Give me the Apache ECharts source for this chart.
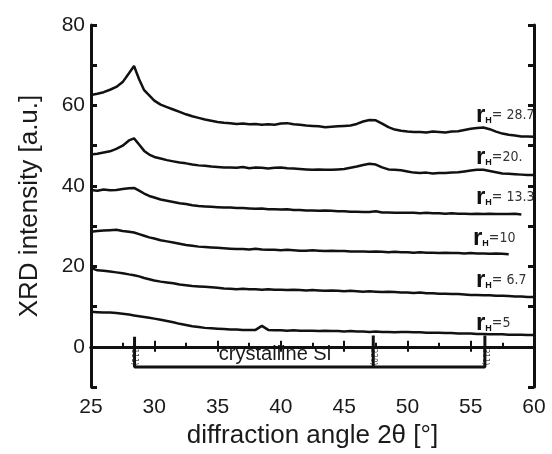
<!DOCTYPE html>
<html>
<head>
<meta charset="utf-8">
<script src="https://cdn.jsdelivr.net/npm/echarts@6/dist/echarts.min.js"></script>
<style>
  html, body { margin: 0; padding: 0; background: #fff; }
  #chart { width: 552px; height: 454px; }
</style>
</head>
<body>
<div id="chart"></div>
<script>
// 2theta grid shared by every pattern (denser around the 28.4 peak)
var angles = [
  25, 25.5, 26, 26.5, 27, 27.5, 28, 28.4, 28.8, 29.2, 29.6,
  30, 30.5, 31, 31.5, 32, 32.5, 33, 33.5, 34, 34.5,
  35, 35.5, 36, 36.5, 37, 37.5, 38, 38.5, 39, 39.5,
  40, 40.5, 41, 41.5, 42, 42.5, 43, 43.5, 44, 44.5,
  45, 45.5, 46, 46.5, 47, 47.5, 48, 48.5, 49, 49.5,
  50, 50.5, 51, 51.5, 52, 52.5, 53, 53.5, 54, 54.5,
  55, 55.5, 56, 56.5, 57, 57.5, 58, 58.5, 59, 59.5, 60
]

var rH287 = [
  62.6, 62.9, 63.3, 63.9, 64.6, 65.8, 68.0, 69.8, 66.5, 63.8, 62.5,
  61.2, 60.2, 59.6, 59.0, 58.4, 57.8, 57.3, 56.9, 56.5, 56.2,
  55.9, 55.7, 55.6, 55.4, 55.5, 55.3, 55.4, 55.2, 55.3, 55.2,
  55.5, 55.6, 55.3, 55.2, 55.0, 54.9, 54.8, 54.6, 54.7, 54.8,
  54.9, 55.0, 55.4, 56.0, 56.4, 56.3, 55.5, 54.6, 54.0, 53.7,
  53.5, 53.4, 53.4, 53.3, 53.5, 53.4, 53.3, 53.5, 53.6, 53.9,
  54.2, 54.4, 54.5, 54.1, 53.5, 53.0, 52.7, 52.5, 52.3, 52.3, 52.2
]
var rH20 = [
  47.8, 48.0, 48.3, 48.6, 49.2, 50.0, 51.3, 51.8, 50.3, 48.7, 47.8,
  47.2, 46.8, 46.4, 46.1, 45.8, 45.6, 45.3, 45.1, 45.0, 44.8,
  44.7, 44.6, 44.6, 44.5, 44.7, 44.4, 44.6, 44.5, 44.3, 44.5,
  44.6, 44.4, 44.3, 44.2, 44.1, 44.0, 44.1, 44.0, 44.0, 44.1,
  44.2, 44.5, 44.8, 45.2, 45.5, 45.3, 44.6, 44.1, 44.0, 43.9,
  43.6, 43.3, 43.2, 43.3, 43.1, 43.2, 43.2, 43.3, 43.4, 43.6,
  43.8, 44.0, 44.0, 43.7, 43.4, 43.1, 43.0, 42.9, 42.8, 42.7, 42.7
]
var rH133 = [
  39.0, 38.8, 39.1, 38.9, 39.0, 39.2, 39.4, 39.5, 38.8, 38.1, 37.5,
  37.1, 36.6, 36.3, 36.0, 35.7, 35.5, 35.2, 35.0, 34.9, 34.8,
  34.7, 34.6, 34.6, 34.5, 34.5, 34.4, 34.3, 34.4, 34.2, 34.2,
  34.1, 34.2, 34.0, 34.0, 33.9, 33.9, 33.8, 33.9, 33.8, 33.7,
  33.7, 33.6, 33.6, 33.5, 33.5, 33.7, 33.4, 33.4, 33.3, 33.3,
  33.3, 33.3, 33.2, 33.3, 33.2, 33.2, 33.1, 33.2, 33.1, 33.1,
  33.0, 33.1, 33.0, 33.1, 33.0, 33.0, 33.0, 33.1, 32.9, null, null
]
var rH10 = [
  28.6, 28.8, 28.9, 29.0, 29.1, 28.8, 28.6, 28.4, 28.0, 27.6, 27.2,
  26.9, 26.5, 26.2, 25.9, 25.6, 25.3, 25.1, 24.9, 24.8, 24.7,
  24.6, 24.5, 24.4, 24.3, 24.3, 24.2, 24.4, 24.2, 24.1, 24.1,
  24.0, 24.1, 24.0, 23.9, 23.9, 24.0, 23.9, 23.8, 23.9, 23.8,
  23.8, 23.7, 23.7, 23.7, 23.6, 23.7, 23.6, 23.5, 23.6, 23.5,
  23.5, 23.4, 23.5, 23.4, 23.4, 23.3, 23.4, 23.3, 23.3, 23.2,
  23.3, 23.2, 23.2, 23.1, 23.2, 23.1, 23.0, null, null, null, null
]
var rH67 = [
  19.6, 19.0, 18.9, 18.7, 18.5, 18.3, 18.0, 17.8, 17.5, 17.1, 16.8,
  16.5, 16.2, 16.0, 15.8, 15.5, 15.3, 15.1, 15.0, 14.9, 14.8,
  14.7, 14.5, 14.4, 14.3, 14.4, 14.3, 14.3, 14.2, 14.3, 14.2,
  14.2, 14.1, 14.2, 14.1, 14.0, 14.1, 14.0, 13.9, 14.0, 13.9,
  13.8, 13.9, 13.8, 13.7, 13.8, 13.7, 13.6, 13.7, 13.6, 13.5,
  13.5, 13.4, 13.5, 13.3, 13.3, 13.2, 13.2, 13.1, 13.1, 13.0,
  12.9, 12.9, 12.8, 12.8, 12.7, 12.7, 12.6, 12.5, 12.5, 12.4, 12.4
]
var rH5 = [
  8.7, 8.6, 8.5, 8.5, 8.4, 8.2, 8.0, 7.8, 7.6, 7.4, 7.2,
  7.0, 6.7, 6.4, 6.1, 5.7, 5.4, 5.1, 4.9, 4.7, 4.6,
  4.5, 4.4, 4.3, 4.3, 4.2, 4.2, 4.2, 5.2, 4.2, 4.1,
  4.1, 4.0, 4.1, 4.0, 4.0, 4.0, 3.9, 4.0, 3.9, 3.9,
  3.8, 3.9, 3.8, 3.8, 3.7, 3.8, 3.7, 3.7, 3.6, 3.7,
  3.7, 3.6, 3.6, 3.5, 3.5, 3.5, 3.4, 3.4, 3.3, 3.3,
  3.3, 3.2, 3.2, 3.1, 3.1, 3.1, 3.0, 3.0, 3.0, 2.9, 2.9
]

// crystalline Si reference reflections
var siPeaks = [28.44, 47.3, 56.12]
var siPlanes = ['(111)', '(220)', '(311)']
var siTop = [2.5, 2.8, 2.8]
var siBottom = -5

var TEXT = '#1a1a1a'
var AXIS_LINE = { lineStyle: { color: '#111', width: 3 } }

function zip(xs, ys) {
  return xs.map(function (x, i) { return [x, ys[i]] })
}

function curve(values) {
  return {
    type: 'line',
    data: zip(angles, values),
    showSymbol: false,
    connectNulls: false,
    lineStyle: { color: '#111', width: 2.5 },
    silent: true
  }
}

// bracket: left leg, bottom bar, two right legs
var bracket = [
  [siPeaks[0], siTop[0]], [siPeaks[0], siBottom],
  [siPeaks[1], siBottom], [siPeaks[1], siTop[1]], [siPeaks[1], siBottom],
  [siPeaks[2], siBottom], [siPeaks[2], siTop[2]]
]

function label(x, y, value) {
  return {
    type: 'text',
    x: x,
    y: y,
    style: {
      text: '{r|r}{h|H}{v|' + value + '}',
      verticalAlign: 'middle',
      rich: {
        r: { fontFamily: 'Liberation Sans', fontWeight: 'bold', fontSize: 24, fill: '#111' },
        h: { fontFamily: 'Liberation Sans', fontWeight: 'bold', fontSize: 9, fill: '#111', padding: [12, 0, 0, 0] },
        v: { fontFamily: 'Liberation Sans Narrow, DejaVu Sans Condensed', fontSize: 14, fill: '#333' }
      }
    }
  }
}

var chart = echarts.init(document.getElementById('chart'))
chart.setOption({
  animation: false,
  backgroundColor: '#fff',
  grid: { left: 91, right: 18, top: 25, bottom: 67 },
  xAxis: [
    {
      type: 'value',
      min: 25,
      max: 60,
      interval: 5,
      position: 'bottom',
      name: 'diffraction angle 2\u03b8 [\u00b0]',
      nameLocation: 'middle',
      nameGap: 32,
      nameTextStyle: { fontFamily: 'Liberation Sans', fontSize: 26, color: TEXT },
      axisLine: AXIS_LINE,
      axisTick: { inside: true, length: 6, lineStyle: { width: 2, color: '#111' } },
      minorTick: { show: true, splitNumber: 2, length: 4, lineStyle: { width: 2, color: '#111' } },
      axisLabel: { fontFamily: 'Liberation Sans', fontSize: 21, color: TEXT, margin: 10 },
      splitLine: { show: false }
    },
    {
      type: 'value',
      min: 25,
      max: 60,
      interval: 5,
      position: 'top',
      axisLine: AXIS_LINE,
      axisTick: { inside: true, length: 5, lineStyle: { width: 2, color: '#111' } },
      axisLabel: { show: false },
      splitLine: { show: false }
    }
  ],
  yAxis: [
    {
      type: 'value',
      min: -10,
      max: 80,
      interval: 10,
      position: 'left',
      name: 'XRD intensity [a.u.]',
      nameLocation: 'middle',
      nameGap: 48,
      nameTextStyle: { fontFamily: 'Liberation Sans', fontSize: 26, color: TEXT },
      axisLine: AXIS_LINE,
      axisTick: { inside: true, length: 6, lineStyle: { width: 3, color: '#111' } },
      axisLabel: {
        fontFamily: 'Liberation Sans',
        fontSize: 21,
        color: TEXT,
        margin: 6,
        formatter: function (v) { return v % 20 === 0 ? String(v) : '' }
      },
      splitLine: { show: false }
    },
    {
      type: 'value',
      min: -10,
      max: 80,
      interval: 10,
      position: 'right',
      axisLine: AXIS_LINE,
      axisTick: { inside: true, length: 6, lineStyle: { width: 3, color: '#111' } },
      axisLabel: { show: false },
      splitLine: { show: false }
    }
  ],
  series: [
    curve(rH287),
    curve(rH20),
    curve(rH133),
    curve(rH10),
    curve(rH67),
    curve(rH5),
    {
      type: 'line',
      data: bracket,
      showSymbol: false,
      lineStyle: { color: '#111', width: 3 },
      silent: true
    },
    {
      type: 'scatter',
      symbolSize: 0,
      data: siPeaks.map(function (x, i) { return { value: [x, -1.2], name: siPlanes[i] } }),
      label: {
        show: true,
        formatter: '{b}',
        rotate: -90,
        position: 'inside',
        offset: [4, 0],
        fontFamily: 'Liberation Sans Narrow, DejaVu Sans Condensed',
        fontSize: 8,
        color: '#222'
      },
      silent: true
    }
  ],
  graphic: [
    {
      type: 'text',
      x: 275,
      y: 354,
      style: {
        text: 'crystalline Si',
        fontFamily: 'Liberation Sans',
        fontSize: 20,
        fill: TEXT,
        align: 'center',
        verticalAlign: 'middle'
      }
    },
    label(476, 115, '= 28.7'),
    label(476, 157, '=20.'),
    label(476, 197, '= 13.3'),
    label(473, 238, '=10'),
    label(476, 280, '= 6.7'),
    label(476, 323, '=5')
  ]
})
</script>
</body>
</html>
